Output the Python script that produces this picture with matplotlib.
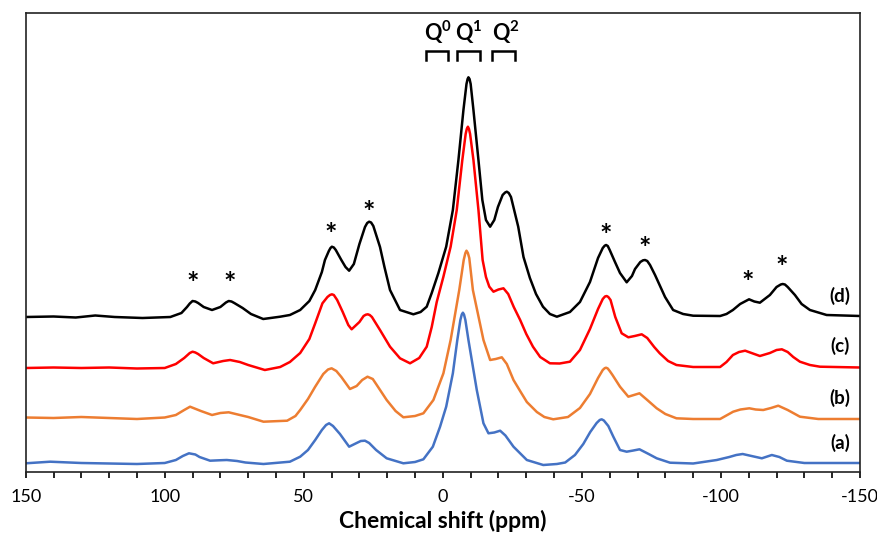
import matplotlib
matplotlib.use("Agg")
import matplotlib.pyplot as plt
import numpy as np

plt.rcParams['font.family'] = ['Lato', 'DejaVu Sans']
plt.rcParams['mathtext.fontset'] = 'custom'
plt.rcParams['mathtext.bf'] = 'Lato:bold'
plt.rcParams['mathtext.rm'] = 'Lato'

# ---------------- data (ppm, stacked intensity) ----------------
ppm_d = [150, 140, 132, 125, 118, 108, 98, 94, 92, 91, 90, 89, 88, 86, 83, 80, 78, 77, 76, 75, 72, 69, 64.6,
         58.5, 55, 51.3, 48, 45.9, 43.5, 42.4, 41, 40.4, 39.9, 39.2, 38.5, 36.5, 35, 33.7, 32, 30, 28, 27.2,
         26.5, 25.8, 25, 22.6, 21, 19, 15.4, 10.6, 8, 5.8, 4.0, 1.6, -1.2, -3.6, -5.6, -7.4, -8.5, -8.9,
         -9.2, -9.6, -10, -11.0, -12.8, -14.2, -15.5, -17.0, -18.5, -19.8, -21.5, -22.4, -23.0, -23.7,
         -24.5, -27.1, -29, -31.3, -33.5, -36.0, -38.5, -41, -45.7, -49.3, -52.9, -55.8, -57.5, -58.2,
         -58.7, -59.3, -60, -61.9, -63.7, -66.1, -68, -69.1, -71, -72, -72.7, -73.5, -74.5, -76.3, -79.9,
         -82.8, -86.4, -90, -99.7, -102, -104.3, -106.9, -110.1, -112, -114, -117.6, -120, -121.5, -122.2,
         -123, -124, -126.6, -129, -132, -138, -150]
int_d = [155, 155.5, 154.5, 156.5, 155, 154, 155, 159, 165, 168.5, 171, 170.5, 169, 165, 162, 165, 169.5, 171, 170.5, 169, 164, 158, 153,
         155.3, 157, 162, 171, 182, 200, 212, 221, 224, 225.3, 224.5, 222, 212, 205, 201.3, 208, 228, 245, 249,
         250.3, 249.5, 246, 225, 205, 182, 162, 157.7, 160, 165.3, 179, 199, 225.3, 262, 312, 362, 388, 393,
         394.7, 393, 388, 362, 312, 272, 252, 245.3, 252, 265, 277, 279.5, 280.3, 279,
         275, 245.3, 215, 194, 178, 165.3, 158, 155.3, 160, 170, 190, 214, 224, 226.3,
         227, 226, 222, 210, 199, 189.7, 196, 203, 210, 211.7, 212, 211, 207, 197, 175,
         162, 158, 156.3, 156, 158, 162, 168, 172.7, 170.5, 169.3, 177, 185, 187.5, 188,
         187.5, 185, 177, 168, 162, 157, 156]

ppm_c = [150, 140, 130, 120, 110, 100, 96, 93, 91, 90, 89, 88, 86, 82.6, 79, 76.5, 73, 70, 64, 58.5, 55, 51.3,
         48, 45.9, 43.3, 41.5, 40.6, 39.9, 39.2, 38, 36, 34, 32.8, 30, 28.5, 27.7, 27, 26.3, 25.5, 22.6, 19,
         15.4, 11.8, 8.5, 5.8, 4.0, 2.2, -0.2, -2.8, -5.0, -7.0, -8.2, -8.6, -9.0, -9.4, -9.8, -11, -12.8,
         -14.3, -15.5, -16.7, -18.2, -20, -21.8, -23.5, -25.5, -27.8, -30, -32.4, -35, -38.5, -42, -45.7,
         -49.3, -52.9, -55.8, -57.5, -58.3, -58.9, -59.5, -60.3, -62, -64.3, -66.7, -69, -71.5, -73.5, -76,
         -78, -81, -84, -90, -99.7, -102, -104.3, -106.5, -108.7, -111, -114, -117.6, -120, -121.9, -124,
         -126, -128.4, -132, -135.6, -150]
int_c = [104, 104.5, 104, 104.5, 103.5, 104, 108, 114, 119, 120.3, 119.5, 118, 114, 108.7, 111, 112, 110, 107, 102, 105, 110, 119,
         133, 148.7, 168.7, 175, 177, 177.7, 177, 172, 160, 147, 142.7, 150, 156, 157.3, 157.7, 157, 155, 142, 125.3,
         113.7, 108.7, 114, 125.3, 145, 170, 195.3, 225.3, 262, 312, 338, 343, 345.3, 343, 338, 312, 262,
         212, 195, 185.3, 180.3, 182.5, 183.7, 178, 165, 152, 138, 125.3, 115, 108.7, 108.5, 110.3,
         122, 143, 163, 173, 175.5, 176, 175, 172, 155, 138.7, 134.7, 136, 137.7, 134, 125,
         118.7, 111, 107, 105, 105, 110, 117, 120, 121.3, 119, 116, 119, 122, 122.7, 120,
         115, 110.3, 107, 105.3, 104.5]

ppm_b = [150, 140, 130, 120, 110, 100, 96, 93, 90.9, 87, 83, 80, 77, 73, 70, 64.5, 56, 53, 51.3, 48.5,
         45.9, 43, 41.3, 40, 38.3, 36.5, 33.4, 31, 29, 27.1, 25.2, 24, 20.2, 17, 14.2, 10, 7.0, 3.4,
         -0.2, -2.8, -5.9, -7.5, -8.1, -8.5, -9.0, -9.5, -10.8, -12.7, -14.6, -17, -19, -21.2, -23, -25.4, -28,
         -30.2, -33.8, -36.5, -39.7, -45, -49.3, -52.9, -55.8, -57.5, -58.2, -58.7, -59.3, -60, -61, -63.7, -66.7,
         -68.7, -70.7, -73.5, -76.9, -80, -84, -90, -99.7, -104.4, -107, -110.2, -112.5, -115.2, -118,
         -120.6, -124, -128.4, -135, -150]
int_b = [54.5, 54, 55, 54, 53, 54.5, 57, 62, 65.3, 61, 57, 59, 59.7, 57, 55, 50.3, 51.3, 56, 62, 73,
         85.3, 98, 102.5, 103.7, 101, 95, 83, 86, 92, 95.3, 93, 88, 72, 61, 54.7, 56, 58.7, 72,
         98.7, 132, 182, 212, 219, 221.3, 219, 214, 182, 157, 132, 112, 113, 114.7, 108, 92, 80,
         70, 60, 55, 52.7, 55, 64, 78, 94, 102, 103.8, 104.3, 103.5, 101, 97, 85.3, 75.3,
         77, 78.7, 72, 63.7, 58, 53.7, 53, 53, 60.3, 62.5, 63.7, 62.5, 62, 64,
         66.3, 62, 55.3, 53, 53]

ppm_a = [150, 141.2, 130, 120, 110, 100, 96, 93.5, 91.3, 89, 87.5, 83.7, 80.5, 77.7, 74, 71, 64.5, 55, 51.3,
         48.5, 45.9, 43.5, 42, 40.9, 39.5, 37, 33.7, 31, 29.5, 28, 26.5, 24, 20.2, 14.2, 10, 7.0, 3.6,
         1.0, -1.2, -3.6, -5.2, -6.3, -6.8, -7.2, -7.6, -8.1, -9.2, -12.2, -14.6, -16.4, -18.5, -20.6, -22.5, -25.4,
         -30.2, -36.1, -41, -44, -47.5, -50.5, -53, -55.3, -56.4, -57.1, -57.9, -59.5, -61.3, -63.7, -66.1, -68.5,
         -70.7, -74, -76.9, -81.7, -90, -98.5, -103, -105.5, -107.8, -111, -114.7, -118.3, -121,
         -123.7, -130, -150]
int_a = [8.7, 10.3, 9, 8.5, 8, 9, 12, 16, 18.7, 17.5, 15, 11.3, 11.7, 12, 11, 9.5, 8, 10.3, 15.3,
         22, 32, 42, 47, 48.7, 46, 38, 25.3, 29, 31, 31.3, 29, 22, 13.7, 8.7, 10, 12.7, 25.3,
         45.3, 65.3, 98.7, 132, 152, 157.5, 159.3, 157.5, 152, 132, 82, 48.7, 38.7, 39.5, 41.3, 36.5, 25.3,
         12, 7, 8, 9.5, 17, 28, 40, 49, 52, 52.7, 51.5, 46, 35.3, 22, 20.3, 21.5,
         22.7, 18, 13.7, 9.3, 8.5, 12, 15, 17, 18, 16, 13.7, 17, 15,
         11.3, 9, 9]

series = [("(a)", ppm_a, int_a, "#4472C4"),
          ("(b)", ppm_b, int_b, "#ED7D31"),
          ("(c)", ppm_c, int_c, "#FF0000"),
          ("(d)", ppm_d, int_d, "#000000")]

trace_labels = ["(a)", "(b)", "(c)", "(d)"]
trace_label_y = [28.7, 74.3, 126, 176]

star_ppm = [89.9, 76.8, 40.3, 26.8, -58.6, -72.7, -109.5, -121.9]
star_y = [191, 191, 240.3, 262, 239.3, 226, 192, 207]

q_labels = [r"$\mathbf{Q^0}$", r"$\mathbf{Q^1}$", r"$\mathbf{Q^2}$"]
q_center = [1.7, -9.4, -22.5]
q_left = [6.0, -5.2, -17.6]
q_right = [-2.0, -13.4, -26.0]

# ---------------- figure ----------------
fig = plt.figure(figsize=(8.78, 5.44), dpi=100)
ax = fig.add_axes([25.7 / 878, 72 / 544, (860 - 25.7) / 878, (472 - 13) / 544])

for name, x, y, col in series:
    ax.plot(x, y, color=col, lw=1.8, solid_joinstyle='round', solid_capstyle='round')

for lab, yy in zip(trace_labels, trace_label_y):
    ax.text(-142.8, yy, lab, ha='center', va='center', fontsize=13.5, fontweight='bold')

for sx, sy in zip(star_ppm, star_y):
    ax.text(sx, sy - 11, "*", ha='center', va='baseline', fontsize=21, fontweight='bold')

for lab, xc, xl, xr in zip(q_labels, q_center, q_left, q_right):
    ax.text(xc, 440, lab, ha='center', va='center', fontsize=15.5)
    ax.plot([xl, xl, xr, xr], [412, 421.3, 421.3, 412], color='black', lw=1.8,
            solid_joinstyle='miter')

ax.set_xlim(150, -150)
ax.set_ylim(0, 459)
ax.set_xticks(np.arange(150, -151, -50))
ax.set_xticklabels(["150", "100", "50", "0", "-50", "-100", "-150"])
ax.set_xticks(np.arange(150, -151, -10), minor=True)
ax.set_yticks([])
ax.tick_params(axis='x', which='both', direction='out', length=4.5, width=1.2,
               labelsize=13, pad=8, top=False)
for s in ax.spines.values():
    s.set_linewidth(1.2)
    s.set_color('#222222')
ax.set_xlabel("Chemical shift (ppm)", fontsize=16.5, fontweight='bold', labelpad=3)

fig.savefig("out.png", dpi=100)
